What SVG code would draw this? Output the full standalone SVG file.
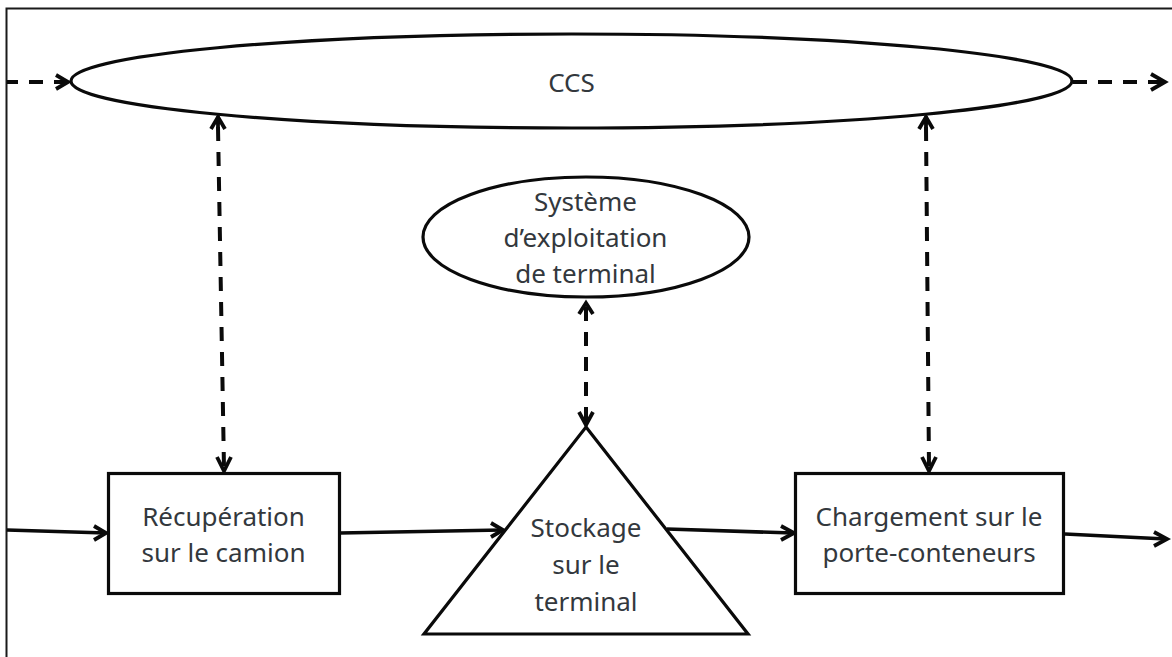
<svg xmlns="http://www.w3.org/2000/svg" width="1172" height="657" viewBox="0 0 1172 657">
<style>
.s{fill:#fff;stroke:#0a0a0a;stroke-width:3.2}
.t{font-family:"Noto Sans","Open Sans",sans-serif;font-size:26px;fill:#33383d;text-anchor:middle}
.c{fill:none;stroke:#0a0a0a;stroke-width:3.6}
.d{stroke-dasharray:14 11;stroke-width:4}
.h{fill:none;stroke:#0a0a0a;stroke-width:3.8}
</style>
<rect width="1172" height="657" fill="#fff"/>
<path id="frame" d="M1172 8.500H6.500V657" fill="none" stroke="#1a1a1a" stroke-width="2"/>
<g id="connectors">
<path class="c d" style="stroke-dashoffset:3" d="M7 82H68"/><path class="h" d="M56 75L68 82L56 89"/>
<path class="c d" d="M1073 82H1164"/><path class="h" d="M1151 74L1165 82L1151 90"/>
<path class="c d" d="M218 127L224 468"/><path class="h" d="M218 116V127M211 129L218 117L225 129"/><path class="h" d="M217 457L224 471L231 457"/>
<path class="c d" d="M926 127L929 468"/><path class="h" d="M926 116V127M919 129L926 117L933 129"/><path class="h" d="M922 457L929 471L936 457"/>
<path class="c d" d="M586 307V422"/><path class="h" d="M579 314L586 303L593 314"/><path class="h" d="M579 412L586 425L593 412"/>
<path class="c" d="M7 530L106 533"/><path class="h" d="M94 526L106 533L94 540"/>
<path class="c" d="M340 533L502 530"/><path class="h" d="M491 523L503 530L491 537"/>
<path class="c" d="M667 529L793 533"/><path class="h" d="M781 526L794 533L781 540"/>
<path class="c" d="M1065 534L1166 539"/><path class="h" d="M1154 532L1167 539L1154 546"/>
</g>
<g id="ccs"><ellipse class="s" cx="571.500" cy="81" rx="500.500" ry="47"/><text class="t" x="571.500" y="92">CCS</text></g>
<g id="systeme"><ellipse class="s" cx="586" cy="237" rx="163" ry="60"/>
<text class="t" x="585.500" y="211">Système</text><text class="t" x="585.500" y="247">d’exploitation</text><text class="t" x="585.500" y="283">de terminal</text></g>
<g id="recuperation"><rect class="s" x="108.500" y="473.500" width="231" height="120"/>
<text class="t" x="223.500" y="526">Récupération</text><text class="t" x="223.500" y="562">sur le camion</text></g>
<g id="stockage"><path class="s" d="M586 427L748 634H424Z"/>
<text class="t" x="586" y="537">Stockage</text><text class="t" x="586" y="574">sur le</text><text class="t" x="586" y="611">terminal</text></g>
<g id="chargement"><rect class="s" x="795.500" y="473.500" width="268" height="120"/>
<text class="t" x="929" y="526">Chargement sur le</text><text class="t" x="929" y="562">porte-conteneurs</text></g>
</svg>
